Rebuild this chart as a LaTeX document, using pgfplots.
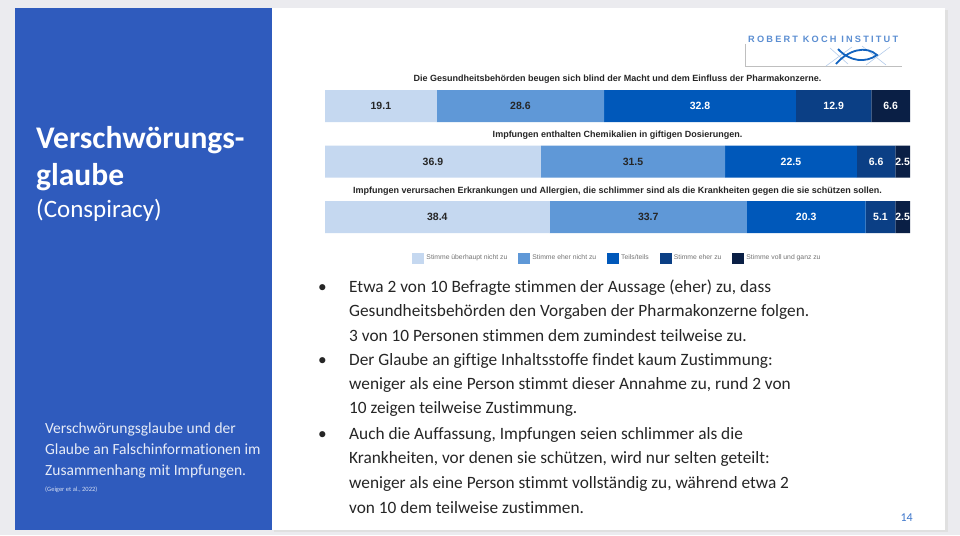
\documentclass[border=0pt]{standalone}
\usepackage{fontspec}
\setmainfont{Carlito}[Ligatures=NoCommon]
\newfontfamily\arial{Liberation Sans}
\newfontfamily\rkifont[LetterSpace=24]{Liberation Sans}
\usepackage{pgfplots}
\pgfplotsset{compat=1.18}
\usepackage{pgfplotstable}
\definecolor{c1}{HTML}{C5D8F0}
\definecolor{c2}{HTML}{5F98D7}
\definecolor{c3}{HTML}{0058BA}
\definecolor{c4}{HTML}{0B3F85}
\definecolor{c5}{HTML}{0A1F45}
\definecolor{panel}{HTML}{2F5BBD}
\definecolor{bg}{HTML}{EBEBEF}
\definecolor{txt}{HTML}{262626}
\definecolor{rki}{HTML}{5B8ED2}
\definecolor{pnum}{HTML}{3F78CC}

\pgfplotstableread{
y s1 s2 s3 s4 s5
0 19.1 28.6 32.8 12.9 6.6
1 36.9 31.5 22.5 6.6 2.5
2 38.4 33.7 20.3 5.1 2.5
}\data

\begin{document}
\begin{tikzpicture}
\useasboundingbox (0pt,0pt) rectangle (960pt,-535pt);
\fill[bg] (0pt,0pt) rectangle (960pt,-535pt);
\fill[black!12] (274pt,-10pt) rectangle (948pt,-532pt);
\fill[white] (272pt,-8pt) rectangle (945pt,-530pt);
\fill[panel] (15pt,-8pt) rectangle (272pt,-530pt);

% left panel text
\node[anchor=base west, inner sep=0pt, text=white, font=\bfseries\fontsize{31.5}{37}\selectfont] at (36pt,-148pt) {Verschwörungs-};
\node[anchor=base west, inner sep=0pt, text=white, font=\bfseries\fontsize{31.5}{37}\selectfont] at (36pt,-185pt) {glaube};
\node[anchor=base west, inner sep=0pt, text=white, font=\fontsize{25}{30}\selectfont] at (36pt,-217pt) {(Conspiracy)};
\node[anchor=base west, inner sep=0pt, text=white!88!panel, font=\fontsize{15.5}{18}\selectfont] at (45pt,-433pt) {Verschwörungsglaube und der};
\node[anchor=base west, inner sep=0pt, text=white!88!panel, font=\fontsize{15.5}{18}\selectfont] at (45pt,-454pt) {Glaube an Falschinformationen im};
\node[anchor=base west, inner sep=0pt, text=white!88!panel, font=\fontsize{15.5}{18}\selectfont] at (45pt,-475pt) {Zusammenhang mit Impfungen.};
\node[anchor=base west, inner sep=0pt, text=white!80!panel, font=\fontsize{6.5}{8}\selectfont] at (45pt,-491pt) {(Geiger et al., 2022)};

% RKI logo
\draw[black!25, line width=0.5pt] (745pt,-44pt) -- (745pt,-66pt) -- (902pt,-66pt);
\node[anchor=base west, inner sep=0pt, text=rki, font=\rkifont\bfseries\fontsize{9.2}{10}\selectfont] at (748pt,-42pt) {ROBERT KOCH INSTITUT};
\draw[rki!45, line width=0.6pt] (826pt,-66pt) -- (852pt,-47pt);
\draw[rki!45, line width=0.6pt] (830pt,-48pt) -- (848pt,-64pt);
\draw[rki!45, line width=0.6pt] (862pt,-46pt) -- (886pt,-65pt);
\draw[rki!45, line width=0.6pt] (866pt,-65pt) -- (890pt,-47pt);
\draw[c3!80!rki, line width=1.8pt] (836pt,-64pt) .. controls (848pt,-50pt) and (866pt,-45pt) .. (877pt,-55pt) .. controls (866pt,-63pt) and (850pt,-62pt) .. (838pt,-49pt);

% bullet text
\begin{scope}[every node/.style={anchor=base west, inner sep=0pt, text=txt, font=\fontsize{17.3}{21}\selectfont}]
\node at (318pt,-292pt) {•};
\node at (318pt,-365.6pt) {•};
\node at (318pt,-439.3pt) {•};
\node at (349pt,-292pt) {Etwa 2 von 10 Befragte stimmen der Aussage (eher) zu, dass};
\node at (349pt,-316.5pt) {Gesundheitsbehörden den Vorgaben der Pharmakonzerne folgen.};
\node at (349pt,-341pt) {3 von 10 Personen stimmen dem zumindest teilweise zu.};
\node at (349pt,-365.6pt) {Der Glaube an giftige Inhaltsstoffe findet kaum Zustimmung:};
\node at (349pt,-389.5pt) {weniger als eine Person stimmt dieser Annahme zu, rund 2 von};
\node at (349pt,-413.5pt) {10 zeigen teilweise Zustimmung.};
\node at (349pt,-439.3pt) {Auch die Auffassung, Impfungen seien schlimmer als die};
\node at (349pt,-463.8pt) {Krankheiten, vor denen sie schützen, wird nur selten geteilt:};
\node at (349pt,-488.4pt) {weniger als eine Person stimmt vollständig zu, während etwa 2};
\node at (349pt,-513pt) {von 10 dem teilweise zustimmen.};
\end{scope}
\node[anchor=base east, inner sep=0pt, text=pnum, font=\fontsize{12}{14}\selectfont] at (913pt,-521pt) {14};

\begin{axis}[
  at={(325pt,-78.25pt)}, anchor=north west,
  scale only axis, width=585pt, height=166.5pt,
  xmin=0, xmax=100, ymin=-0.5, ymax=2.5, y dir=reverse,
  hide axis, clip=false,
  xbar stacked, bar width=32pt,
  point meta=explicit symbolic,
  nodes near coords={\pgfplotspointmeta},
  every node near coord/.append style={anchor=center, inner sep=0pt, font=\arial\bfseries\fontsize{10.5}{11}\selectfont},
  legend columns=5,
  legend style={at={(0.5,-0.035)}, anchor=north, draw=none, fill=none,
    font=\arial\fontsize{6.8}{8}\selectfont, text=black!55,
    /tikz/every even column/.append style={column sep=9pt}},
  every axis plot post/.append style={/pgfplots/legend image code/.code={\fill[##1] (0pt,-5.5pt) rectangle (12pt,5.5pt);}},
]
\addplot[fill=c1, draw=none, every node near coord/.append style={text=txt}] table[x=s1, y=y, meta=s1] {\data};
\addplot[fill=c2, draw=none, every node near coord/.append style={text=txt}] table[x=s2, y=y, meta=s2] {\data};
\addplot[fill=c3, draw=none, every node near coord/.append style={text=white}] table[x=s3, y=y, meta=s3] {\data};
\addplot[fill=c4, draw=none, every node near coord/.append style={text=white}] table[x=s4, y=y, meta=s4] {\data};
\addplot[fill=c5, draw=none, every node near coord/.append style={text=white}] table[x=s5, y=y, meta=s5] {\data};
\legend{Stimme überhaupt nicht zu, Stimme eher nicht zu, Teils/teils, Stimme eher zu, Stimme voll und ganz zu}
\node[font=\arial\bfseries\fontsize{9}{10}\selectfont, text=txt] at (axis cs:50,-0.48) {Die Gesundheitsbehörden beugen sich blind der Macht und dem Einfluss der Pharmakonzerne.};
\node[font=\arial\bfseries\fontsize{9}{10}\selectfont, text=txt] at (axis cs:50,0.53) {Impfungen enthalten Chemikalien in giftigen Dosierungen.};
\node[font=\arial\bfseries\fontsize{9}{10}\selectfont, text=txt] at (axis cs:50,1.53) {Impfungen verursachen Erkrankungen und Allergien, die schlimmer sind als die Krankheiten gegen die sie schützen sollen.};
\end{axis}
\end{tikzpicture}
\end{document}
